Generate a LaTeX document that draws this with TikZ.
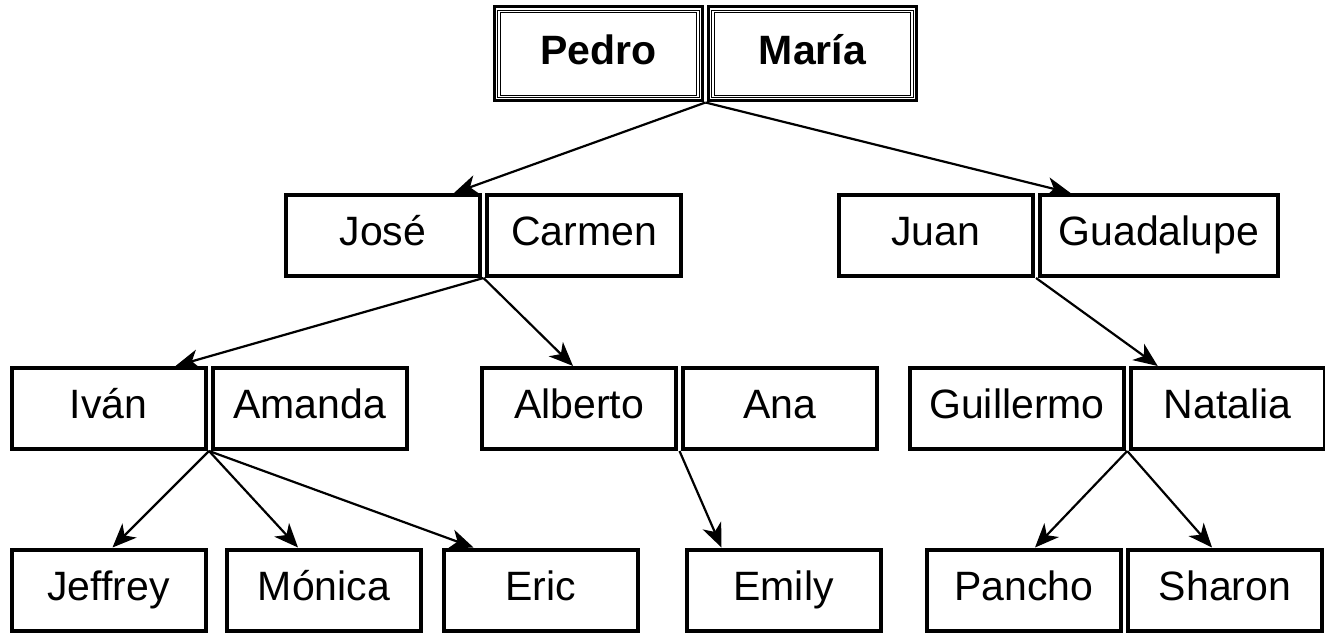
\documentclass[tikz,border=0pt]{standalone}
\usepackage{fontspec}
\setmainfont{Liberation Sans}
\usetikzlibrary{arrows.meta}
\usetikzlibrary{positioning}
\tikzset{
      person/.style={draw=black, line width=2pt, minimum width=97pt, minimum height=40.5pt,
            inner xsep=9.5pt, text height=14.7pt, text depth=4.3pt,
            font=\fontsize{20.5}{24}\selectfont},
      elder/.style={person, font=\fontsize{20.5}{24}\selectfont\bfseries, line width=1.5pt,
            minimum width=104pt, minimum height=47pt},
      frame/.style={draw=black, line width=0.5pt, double=white, double distance=0.65pt},
      child/.style={draw=black, line width=1.1pt,
            -{Stealth[length=12pt, width=10pt, inset=3.5pt]}},
}
\begin{document}
\begin{tikzpicture}[x=0.5pt, y=-0.5pt]
        \useasboundingbox (0,0) rectangle (1325,635);

        \node[elder] (pedro) at (598.5,54) {Pedro};
        \node[elder, right=1.5pt of pedro] (maria) {María};
        \foreach \n in {pedro,maria}
            \draw[frame] ([shift={(3pt,-3pt)}]\n.north west) rectangle ([shift={(-3pt,3pt)}]\n.south east);

        \node[person] (jose) at (383,235.5) {José};
        \node[person, right=1.5pt of jose] (carmen) {Carmen};
        \node[person] (juan) at (935.5,235.5) {Juan};
        \node[person, right=1.5pt of juan] (guadalupe) {Guadalupe};

        \node[person] (ivan) at (108.5,408.5) {Iván};
        \node[person, right=1.5pt of ivan] (amanda) {Amanda};
        \node[person] (alberto) at (579,408.5) {Alberto};
        \node[person, right=1.5pt of alberto] (ana) {Ana};
        \node[person] (guillermo) at (1017,408.5) {Guillermo};
        \node[person, right=1.5pt of guillermo] (natalia) {Natalia};

        \node[person] (jeffrey) at (108.5,590) {Jeffrey};
        \node[person] (monica) at (324,590) {Mónica};
        \node[person] (eric) at (540.5,590) {Eric};
        \node[person] (emily) at (783.5,590) {Emily};
        \node[person] (pancho) at (1024,590) {Pancho};
        \node[person, right=1.5pt of pancho] (sharon) {Sharon};

        \draw[child] ([xshift=0.75pt]pedro.south east) -- ([xshift=-14pt]jose.north east);
        \draw[child] ([xshift=0.75pt]pedro.south east) -- ([xshift=16.5pt]guadalupe.north west);

        \draw[child] ([xshift=0.75pt]jose.south east) -- ([xshift=-16pt]ivan.north east);
        \draw[child] ([xshift=0.75pt]jose.south east) -- ([xshift=-3pt]alberto.north);
        \draw[child] ([xshift=0.75pt]juan.south east) -- ([xshift=14.5pt]natalia.north west);

        \draw[child] ([xshift=0.75pt]ivan.south east) -- ([xshift=2pt]jeffrey.north);
        \draw[child] ([xshift=0.75pt]ivan.south east) -- ([xshift=-13pt]monica.north);
        \draw[child] ([xshift=0.75pt]ivan.south east) -- ([xshift=16pt]eric.north west);
        \draw[child] ([xshift=0.75pt]alberto.south east) -- ([xshift=18.5pt]emily.north west);
        \draw[child] ([xshift=0.75pt]guillermo.south east) -- ([xshift=5.5pt]pancho.north);
        \draw[child] ([xshift=0.75pt]guillermo.south east) -- ([xshift=-6.5pt]sharon.north);

    \end{tikzpicture}
\end{document}
